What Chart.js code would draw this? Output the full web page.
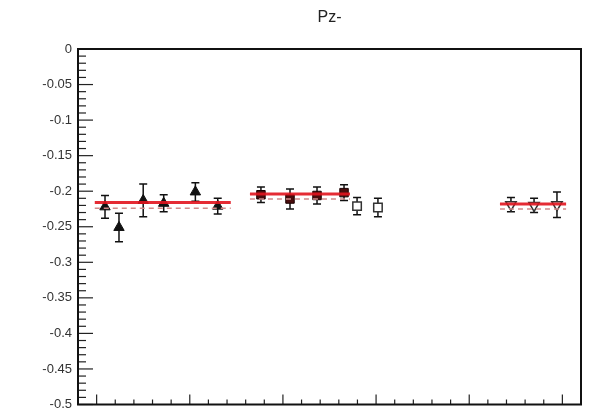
<!DOCTYPE html>
<html>
<head>
<meta charset="utf-8">
<script src="https://cdn.jsdelivr.net/npm/chart.js@4"></script>
<style>
  html, body { margin: 0; padding: 0; background: #fff; }
  #wrap { width: 594px; height: 412px; }
</style>
</head>
<body>
<div id="wrap"><canvas id="pz"></canvas></div>
<script>
// --- data ---
const titleText = "Pz-";

const yTickValues = [-0.5, -0.45, -0.4, -0.35, -0.3, -0.25, -0.2, -0.15, -0.1, -0.05, 0];
const yTickLabels = ["-0.5", "-0.45", "-0.4", "-0.35", "-0.3", "-0.25", "-0.2", "-0.15", "-0.1", "-0.05", "0"];
const xMajorTicks = [1, 6, 11, 16, 21, 26];

// run set 1 (filled triangles)
const set1X = [1.45, 2.2, 3.5, 4.6, 6.3, 7.5];
const set1Y = [-0.222, -0.251, -0.213, -0.217, -0.201, -0.221];
const set1Err = [0.016, 0.02, 0.023, 0.012, 0.013, 0.011];

// run set 2 (filled squares)
const set2X = [9.82, 11.38, 12.83, 14.28];
const set2Y = [-0.205, -0.211, -0.206, -0.202];
const set2Err = [0.011, 0.014, 0.012, 0.011];

// run set 3 (open squares)
const set3X = [14.98, 16.1];
const set3Y = [-0.221, -0.223];
const set3Err = [0.012, 0.013];

// run set 4 (open triangles)
const set4X = [23.24, 24.48, 25.71];
const set4Y = [-0.219, -0.22, -0.219];
const set4Err = [0.01, 0.01, 0.018];

// fitted constants (x range, value, lower band)
const fitX = [[0.9, 8.2], [9.23, 14.6], [22.65, 26.2]];
const fitVal = [-0.216, -0.204, -0.218];
const fitLow = [-0.224, -0.211, -0.225];

function pts(xs, ys, es) {
    return xs.map((x, i) => ({ x: x, y: ys[i], err: es ? es[i] : 0 }));
}

const datasets = [];
datasets.push({ label: "set1", data: pts(set1X, set1Y, set1Err), pointStyle: "triangle",
    pointRadius: 6, backgroundColor: "#111", borderColor: "#111", order: 2 });
datasets.push({ label: "set2", data: pts(set2X, set2Y, set2Err), pointStyle: "rect",
    pointRadius: 6, backgroundColor: "#4a0c0c", borderColor: "#1a0000", order: 2 });
datasets.push({ label: "set3", data: pts(set3X, set3Y, set3Err), pointStyle: "rect",
    pointRadius: 6, backgroundColor: "#fff", borderColor: "#333", borderWidth: 1.5, order: 2 });
datasets.push({ label: "set4", data: pts(set4X, set4Y, set4Err), pointStyle: "triangle", rotation: 180,
    pointRadius: 6, backgroundColor: "#fff", borderColor: "#333", borderWidth: 1.5, order: 2 });

fitX.forEach((r, i) => {
    datasets.push({ type: "line", label: "low" + i, data: [{ x: r[0], y: fitLow[i] }, { x: r[1], y: fitLow[i] }],
        borderColor: "#d08a8a", borderWidth: 1.5, borderDash: [5, 4], pointRadius: 0, order: 1, noErr: true });
    datasets.push({ type: "line", label: "fit" + i, data: [{ x: r[0], y: fitVal[i] }, { x: r[1], y: fitVal[i] }],
        borderColor: "rgba(226,20,30,0.9)", borderWidth: 3, pointRadius: 0, order: 0, noErr: true });
});

const errorBars = {
    id: "errorBars",
    beforeDatasetsDraw(chart) {
        const ctx = chart.ctx;
        const ys = chart.scales.y, xs = chart.scales.x;
        ctx.save();
        ctx.strokeStyle = "#111";
        ctx.lineWidth = 1.5;
        chart.data.datasets.forEach(ds => {
            if (ds.noErr) return;
            ds.data.forEach(p => {
                const px = xs.getPixelForValue(p.x);
                const top = ys.getPixelForValue(p.y + p.err);
                const bot = ys.getPixelForValue(p.y - p.err);
                ctx.beginPath();
                ctx.moveTo(px, top); ctx.lineTo(px, bot);
                ctx.moveTo(px - 4, top); ctx.lineTo(px + 4, top);
                ctx.moveTo(px - 4, bot); ctx.lineTo(px + 4, bot);
                ctx.stroke();
            });
        });
        ctx.restore();
    }
};

// frame, ROOT-style inner ticks and the title centred over the plot area
const frame = {
    id: "frame",
    afterDraw(chart) {
        const ctx = chart.ctx;
        const a = chart.chartArea;
        const ys = chart.scales.y, xs = chart.scales.x;
        ctx.save();
        ctx.strokeStyle = "#222";
        ctx.lineWidth = 1.2;
        for (let i = 0; i < yTickValues.length; i++) {
            const py = ys.getPixelForValue(yTickValues[i]);
            ctx.beginPath(); ctx.moveTo(a.left, py); ctx.lineTo(a.left + 15, py); ctx.stroke();
            if (i < yTickValues.length - 1) {
                for (let k = 1; k < 5; k++) {
                    const my = ys.getPixelForValue(yTickValues[i] + k * 0.01);
                    ctx.beginPath(); ctx.moveTo(a.left, my); ctx.lineTo(a.left + 8, my); ctx.stroke();
                }
            }
        }
        for (let v = Math.ceil(xs.min); v <= xs.max; v++) {
            const px = xs.getPixelForValue(v);
            const len = xMajorTicks.includes(v) ? 10 : 5;
            ctx.beginPath(); ctx.moveTo(px, a.bottom); ctx.lineTo(px, a.bottom - len); ctx.stroke();
        }
        ctx.lineWidth = 2;
        ctx.strokeStyle = "#111";
        ctx.strokeRect(a.left, a.top, a.right - a.left, a.bottom - a.top);

        ctx.fillStyle = "#222";
        ctx.font = "16px 'Liberation Sans'";
        ctx.textAlign = "center";
        ctx.textBaseline = "middle";
        ctx.fillText(titleText, (a.left + a.right) / 2, 18);
        ctx.restore();
    }
};

new Chart(document.getElementById("pz").getContext("2d"), {
    type: "scatter",
    data: { datasets: datasets },
    options: {
        responsive: true,
        maintainAspectRatio: false,
        animation: false,
        layout: { padding: { left: 0, right: 13, top: 49, bottom: 0 } },
        plugins: {
            legend: { display: false },
            tooltip: { enabled: false },
            title: { display: false }
        },
        scales: {
            x: {
                type: "linear",
                min: 0,
                max: 27,
                grid: { display: false, drawTicks: false },
                border: { display: false },
                ticks: { display: false },
                afterFit: s => { s.height = 5; }
            },
            y: {
                type: "linear",
                min: -0.5,
                max: 0,
                grid: { display: false, drawTicks: false },
                border: { display: false },
                afterBuildTicks: s => { s.ticks = yTickValues.map(v => ({ value: v })); },
                ticks: {
                    padding: 6,
                    color: "#333",
                    font: { family: "Liberation Sans", size: 13 },
                    callback: (v, i) => yTickLabels[i]
                },
                afterFit: s => { s.width = 78; s.paddingTop = 0; s.paddingBottom = 0; }
            }
        }
    },
    plugins: [errorBars, frame]
});
</script>
</body>
</html>
